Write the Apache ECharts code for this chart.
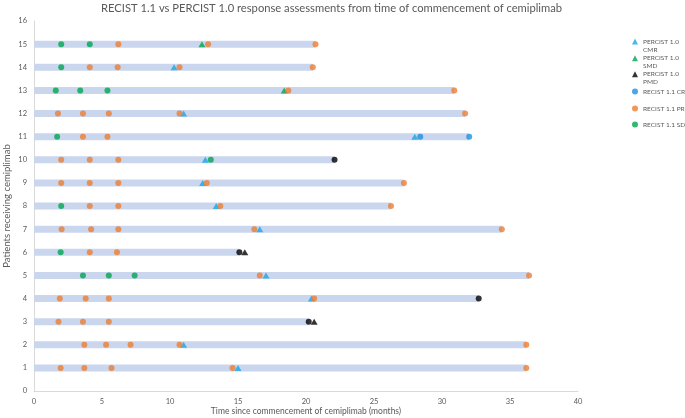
<!DOCTYPE html>
<html>
<head>
<meta charset="utf-8">
<script src="https://cdn.jsdelivr.net/npm/echarts@6/dist/echarts.min.js"></script>
<style>html,body{margin:0;padding:0;background:#fff}#c{width:685px;height:418px}</style>
</head>
<body>
<div id="c"></div>
<script>
// Patients 1..15 and time on treatment (months) = bar length
var patients = [1,2,3,4,5,6,7,8,9,10,11,12,13,14,15];
var barEnds = [36.2, 36.2, 20.2, 32.7, 36.4, 15.1, 34.4, 26.25, 27.2, 22.1, 32.0, 31.7, 30.9, 20.5, 20.7];

// [months, patient]
var percistCMR = [[15.0,1],[11.0,2],[20.4,4],[17.06,5],[16.6,7],[13.4,8],[12.4,9],[12.6,10],[28.0,11],[11.0,12],[10.3,14]];
var percistSMD = [[18.4,13],[12.35,15]];
var percistPMD = [[20.6,3],[15.5,6]];
var recistCR = [[28.4,11],[32.0,11]];
var recistPD = [[20.2,3],[32.7,4],[15.1,6],[22.1,10]];
var recistPR = [
  [1.96,1],[3.7,1],[5.7,1],[14.6,1],[36.2,1],
  [3.7,2],[5.3,2],[7.1,2],[10.7,2],[36.2,2],
  [1.8,3],[3.6,3],[5.5,3],
  [1.9,4],[3.8,4],[5.5,4],[20.6,4],
  [16.6,5],[36.4,5],
  [4.1,6],[6.1,6],
  [2.03,7],[4.2,7],[6.2,7],[16.2,7],[34.4,7],
  [4.1,8],[6.2,8],[13.7,8],[26.25,8],
  [2.0,9],[4.1,9],[6.2,9],[12.7,9],[27.2,9],
  [2.0,10],[4.1,10],[6.2,10],
  [3.6,11],[5.4,11],
  [1.76,12],[3.6,12],[5.5,12],[10.7,12],[31.7,12],
  [18.7,13],[30.9,13],
  [4.1,14],[6.15,14],[10.7,14],[20.5,14],
  [6.2,15],[12.8,15],[20.7,15]
];
var recistSD = [
  [3.6,5],[5.5,5],[7.4,5],
  [1.96,6],
  [2.0,8],
  [13.0,10],
  [1.7,11],
  [1.6,13],[3.4,13],[5.4,13],
  [2.0,14],
  [2.0,15],[4.1,15]
];

var xTicks = [0,5,10,15,20,25,30,35,40];

var barData = patients.map(function(p,i){ return [barEnds[i], p]; });

var FONT = 'Lato, "Open Sans", sans-serif';
var GRAY = '#595959';

function legendItem(name, top) {
  return {
    data: [name],
    orient: 'vertical',
    left: 632,
    top: top,
    padding: 0,
    itemWidth: 6,
    itemHeight: 6,
    itemGap: 0,
    selectedMode: false,
    formatter: function(n){ return n.indexOf('PERCIST 1.0 ') === 0 ? '\n' + n.replace('PERCIST 1.0 ', 'PERCIST 1.0\n') : n; },
    textStyle: {fontFamily: FONT, fontSize: 6.5, color: GRAY, lineHeight: 8, overflow: 'none'}
  };
}

var chart = echarts.init(document.getElementById('c'), null, {renderer: 'canvas'});
chart.setOption({
  animation: false,
  backgroundColor: '#fff',
  title: {
    text: 'RECIST 1.1 vs PERCIST 1.0 response assessments from time of commencement of cemiplimab',
    left: 96, top: -2,
    textStyle: {fontFamily: FONT, fontSize: 11.2, fontWeight: 'normal', color: GRAY}
  },
  legend: [
    legendItem('PERCIST 1.0 CMR', 29.5),
    legendItem('PERCIST 1.0 SMD', 46.2),
    legendItem('PERCIST 1.0 PMD', 62.2),
    legendItem('RECIST 1.1 CR', 87.5),
    legendItem('RECIST 1.1 PR', 104.5),
    legendItem('RECIST 1.1 SD', 120.5)
  ],
  grid: {left: 34, right: 107, top: 21, bottom: 27, containLabel: false, outerBoundsMode: 'none'},
  xAxis: {
    type: 'value', min: 0, max: 40, interval: 5,
    name: 'Time since commencement of cemiplimab (months)',
    nameLocation: 'middle', nameGap: 16, nameMoveOverlap: false,
    nameTextStyle: {fontFamily: FONT, fontSize: 8.5, color: GRAY},
    axisLine: {show: true, lineStyle: {color: '#d9d9d9'}},
    axisTick: {show: false},
    splitLine: {show: false},
    axisLabel: {fontFamily: FONT, fontSize: 7.5, color: GRAY, margin: 7,
      formatter: function(v){ return xTicks.indexOf(v) >= 0 ? String(v) : ''; }}
  },
  yAxis: {
    type: 'value', min: 0, max: 16, interval: 1,
    name: 'Patients receiving cemiplimab',
    nameLocation: 'middle', nameGap: 22, nameMoveOverlap: false,
    nameTextStyle: {fontFamily: FONT, fontSize: 9.5, color: GRAY},
    axisLine: {show: true, lineStyle: {color: '#d9d9d9'}},
    axisTick: {show: false},
    splitLine: {show: false},
    axisLabel: {fontFamily: FONT, fontSize: 7.5, color: GRAY, margin: 7}
  },
  series: [
    {
      type: 'custom', name: 'Treatment', silent: true, z: 1,
      data: barData,
      encode: {x: 0, y: 1},
      renderItem: function(params, api){
        var s = api.coord([0, api.value(1)]);
        var e = api.coord([api.value(0), api.value(1)]);
        return {type: 'rect', shape: {x: s[0], y: s[1] - 3.5, width: e[0] - s[0], height: 7},
                style: {fill: '#c9d6ed'}};
      }
    },
    {type: 'scatter', name: 'RECIST 1.1 PD', data: recistPD, symbol: 'circle', symbolSize: 6, itemStyle: {color: '#000000'}, z: 3},
    {type: 'scatter', name: 'PERCIST 1.0 CMR', data: percistCMR, symbol: 'triangle', symbolSize: [7,6], itemStyle: {color: '#1aa6e8'}, z: 3},
    {type: 'scatter', name: 'PERCIST 1.0 SMD', data: percistSMD, symbol: 'triangle', symbolSize: [7,6], itemStyle: {color: '#00a650'}, z: 3},
    {type: 'scatter', name: 'PERCIST 1.0 PMD', data: percistPMD, symbol: 'triangle', symbolSize: [7,6], itemStyle: {color: '#000000'}, z: 3},
    {type: 'scatter', name: 'RECIST 1.1 CR', data: recistCR, symbol: 'circle', symbolSize: 6, itemStyle: {color: '#1e90e2'}, z: 3},
    {type: 'scatter', name: 'RECIST 1.1 PR', data: recistPR, symbol: 'circle', symbolSize: 6, itemStyle: {color: '#ee7d31'}, z: 3},
    {type: 'scatter', name: 'RECIST 1.1 SD', data: recistSD, symbol: 'circle', symbolSize: 6, itemStyle: {color: '#00a650'}, z: 3}
  ]
});
</script>
</body>
</html>
